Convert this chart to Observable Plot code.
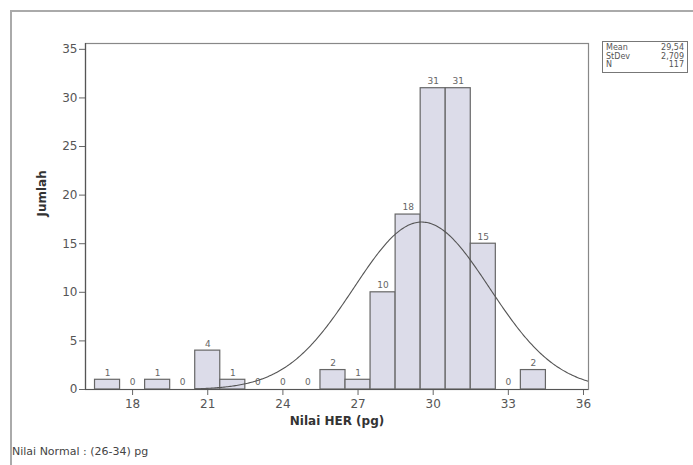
<!DOCTYPE html>
<html>
<head>
<meta charset="utf-8">
<script src="https://cdn.jsdelivr.net/npm/d3@7"></script>
<script src="https://cdn.jsdelivr.net/npm/@observablehq/plot@0.6"></script>
<style>
  html, body { margin: 0; padding: 0; background: #fff; }
  #wrap { position: relative; width: 693px; height: 465px; overflow: hidden; font-family: "DejaVu Sans", sans-serif; }
  #border { position: absolute; left: 10px; top: 10px; width: 700px; height: 470px; border-left: 2px solid #aaa; border-top: 2px solid #aaa; box-sizing: border-box; }
  #chart { position: absolute; left: 0; top: 0; }
  #stats { position: absolute; left: 602px; top: 41px; width: 86px; border: 1px solid #777; font-size: 8px; color: #555; padding: 2px 3px; box-sizing: border-box; background: #fff; }
  #stats table { width: 100%; border-collapse: collapse; }
  #stats td { padding: 0; line-height: 8.5px; }
  #stats td.v { text-align: right; }
  #caption { position: absolute; left: 12px; top: 445px; font-size: 11px; color: #444; }
</style>
</head>
<body>
<div id="wrap">
  <div id="border"></div>
  <div id="chart"></div>
  <div id="stats"></div>
  <div id="caption">Nilai Normal : (26-34) pg</div>
</div>
<script>
// Histogram bins (bin centres, width 1) and counts
const binCenters = [17, 18, 19, 20, 21, 22, 23, 24, 25, 26, 27, 28, 29, 30, 31, 32, 33, 34];
const counts     = [1,  0,  1,  0,  4,  1,  0,  0,  0,  2,  1, 10, 18, 31, 31, 15,  0,  2];
const xTicks = [18, 21, 24, 27, 30, 33, 36];
const yTicks = [0, 5, 10, 15, 20, 25, 30, 35];
const statLabels = ["Mean", "StDev", "N"];
const statValues = ["29,54", "2,709", "117"];
const mean = 29.54, sd = 2.709, n = 117, binWidth = 1;
const curveStart = 20.5, curveEnd = 36.2;

const bins = binCenters.map((c, i) => ({x1: c - binWidth / 2, x2: c + binWidth / 2, c, count: counts[i]}));
const nonzero = bins.filter(d => d.count > 0);

// Fitted normal curve from the displayed Mean / StDev / N
const curve = d3.range(curveStart, curveEnd + 1e-9, 0.05).map(x => ({
  x,
  y: n * binWidth * Math.exp(-0.5 * ((x - mean) / sd) ** 2) / (sd * Math.sqrt(2 * Math.PI))
}));

const chart = Plot.plot({
  width: 693,
  height: 465,
  marginLeft: 85,
  marginRight: 105,
  marginTop: 43,
  marginBottom: 76,
  style: {fontFamily: "DejaVu Sans, sans-serif", fontSize: "12px", color: "#555", background: "transparent"},
  x: {domain: [16.12, 36.2]},
  y: {domain: [0, 35.6]},
  marks: [
    Plot.rect(nonzero, {x1: "x1", x2: "x2", y1: 0, y2: "count", fill: "#dcdce9", stroke: "#666", strokeWidth: 1.2}),
    Plot.text(bins, {x: "c", y: "count", text: d => String(d.count), dy: -7, fontSize: 9, fill: "#666"}),
    Plot.line(curve, {x: "x", y: "y", stroke: "#555", strokeWidth: 1.1, clip: true}),
    Plot.frame({stroke: "#888", strokeWidth: 1.2}),
    Plot.axisX({ticks: xTicks, tickSize: 6, tickPadding: 4, label: null, stroke: "#666", fill: "#555"}),
    Plot.axisY({ticks: yTicks, tickSize: 6, tickPadding: 2, label: null, stroke: "#666", fill: "#555"}),
    Plot.ruleX([16.12], {stroke: "#555", strokeWidth: 1.2}),
    Plot.ruleY([0], {stroke: "#555", strokeWidth: 1.2}),
    Plot.text(["Jumlah"], {frameAnchor: "left", dx: -43, rotate: -90, fontWeight: "bold", fontSize: 12, fill: "#333"}),
    Plot.text(["Nilai HER (pg)"], {frameAnchor: "bottom", dy: 35, fontWeight: "bold", fontSize: 12, fill: "#333"})
  ]
});
document.getElementById("chart").appendChild(chart);

const tbl = document.createElement("table");
statLabels.forEach((l, i) => {
  const tr = document.createElement("tr");
  const a = document.createElement("td"); a.textContent = l;
  const b = document.createElement("td"); b.textContent = statValues[i]; b.className = "v";
  tr.appendChild(a); tr.appendChild(b); tbl.appendChild(tr);
});
document.getElementById("stats").appendChild(tbl);
</script>
</body>
</html>
